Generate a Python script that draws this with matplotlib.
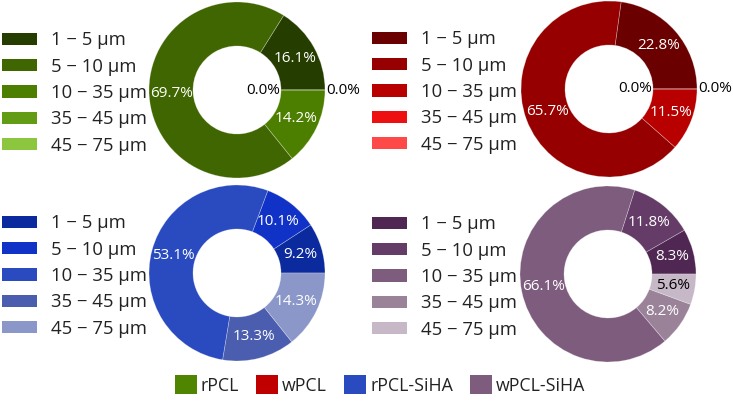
import matplotlib

matplotlib.use("Agg")
import matplotlib.pyplot as plt
from matplotlib.colors import to_rgb
from matplotlib.patches import Patch

plt.rcParams["font.family"] = ["Open Sans", "DejaVu Sans"]

# pore size classes and share (%) per scaffold
size_classes = ["1 − 5 µm", "5 − 10 µm", "10 − 35 µm", "35 − 45 µm", "45 − 75 µm"]
groups = ["rPCL", "wPCL", "rPCL-SiHA", "wPCL-SiHA"]
rpcl = [16.1, 69.7, 14.2, 0.0, 0.0]
wpcl = [22.8, 65.7, 11.5, 0.0, 0.0]
rpcl_siha = [9.2, 10.1, 53.1, 13.3, 14.3]
wpcl_siha = [8.3, 11.8, 66.1, 8.2, 5.6]

group_colors = ["#4f8500", "#c00000", "#2a4bc0", "#7e5c7e"]
shades = {
    "rPCL": ["#263d00", "#3f6600", "#4c7f00", "#619c14", "#8cc63e"],
    "wPCL": ["#6b0000", "#960000", "#b80000", "#ee1010", "#ff4848"],
    "rPCL-SiHA": ["#0a2a9e", "#1032c6", "#2a4bc0", "#4a5dae", "#8a97c8"],
    "wPCL-SiHA": ["#4f2752", "#643c67", "#7e5c7e", "#9a8299", "#c6b8c6"],
}
values = {"rPCL": rpcl, "wPCL": wpcl, "rPCL-SiHA": rpcl_siha, "wPCL-SiHA": wpcl_siha}

W, H = 733, 405
R = 88
LEG_FS = 13.3
# donut centres in pixels (x, y from top), legend left edge
layout = {
    "rPCL": (237, 90, 2),
    "wPCL": (609, 89, 372),
    "rPCL-SiHA": (237, 273, 2),
    "wPCL-SiHA": (608, 274, 372),
}


def lum(c):
    r, g, b = to_rgb(c)
    return 0.2126 * r + 0.7152 * g + 0.0722 * b


fig = plt.figure(figsize=(W / 100, H / 100), dpi=100)
px = LEG_FS * 100 / 72  # legend font size in pixels

for name in groups:
    cx, cy, lx = layout[name]
    ax = fig.add_axes([(cx - R) / W, (H - cy - R) / H, 2 * R / W, 2 * R / H])
    vals = values[name]
    cols = shades[name]
    wedges, _, autotexts = ax.pie(
        vals, colors=cols, startangle=0, counterclock=True, radius=1.0,
        autopct="%1.1f%%", pctdistance=0.75,
        wedgeprops=dict(width=0.5, edgecolor=(1, 1, 1, 0.35), linewidth=0.5),
        textprops=dict(fontsize=11),
    )
    zeros = 0
    for v, c, t in zip(vals, cols, autotexts):
        t.set_color("black" if lum(c) > 0.68 else "white")
        if v == 0:
            t.set_color("black")
            if zeros == 0:
                t.set_position((0.49, 0.0))
                t.set_ha("right")
            else:
                t.set_position((1.01, 0.0))
                t.set_ha("left")
            t.set_va("center")
            zeros += 1
    ax.set_xlim(-1, 1)
    ax.set_ylim(-1, 1)

    handles = [Patch(facecolor=c, edgecolor="none") for c in cols]
    fig.legend(
        handles, size_classes, loc="center left",
        bbox_to_anchor=(lx / W, 1 - (cy + 3) / H), frameon=False,
        fontsize=LEG_FS, handlelength=35 / px, handleheight=12 / px,
        handletextpad=14 / px, labelspacing=0.45,
        borderpad=0, borderaxespad=0, labelcolor="#222222",
    )

fs2 = 12.8
px2 = fs2 * 100 / 72
fig.legend(
    [Patch(facecolor=c, edgecolor="none") for c in group_colors], groups,
    loc="center", bbox_to_anchor=(380 / W, 1 - 385 / H), ncol=4, frameon=False,
    fontsize=fs2, handlelength=22 / px2, handleheight=22 / px2,
    handletextpad=4 / px2, columnspacing=17 / px2,
    borderpad=0, borderaxespad=0, labelcolor="#222222",
)

fig.savefig("out.png", dpi=100, facecolor="white")
